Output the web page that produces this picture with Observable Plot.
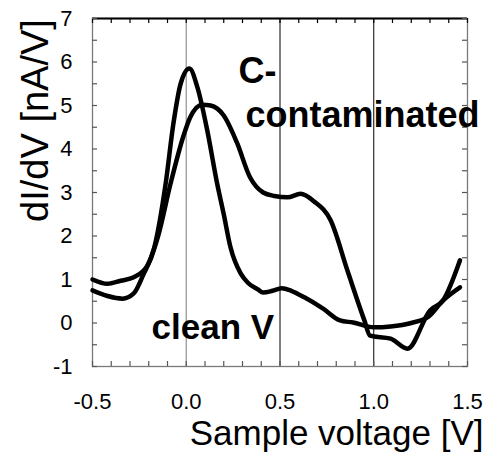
<!DOCTYPE html>
<html><head><meta charset="utf-8">
<script src="https://cdn.jsdelivr.net/npm/d3@7"></script>
<script src="https://cdn.jsdelivr.net/npm/@observablehq/plot@0.6"></script>
<style>body{margin:0;background:#fff}</style>
</head><body><div id="chart"></div>
<script>
// Series: clean V
const cleanV = [-0.5,-0.42,-0.34,-0.28,-0.23,-0.17,-0.11,-0.068,-0.03,0.017,0.06,0.11,0.165,0.2,0.236,0.29,0.33,0.38,0.41,0.46,0.51,0.56,0.63,0.73,0.82,0.89,1.0,1.09,1.2,1.29,1.37,1.46];
const cleanI = [0.75,0.62,0.56,0.68,1.1,1.74,3.2,4.6,5.5,5.85,5.41,4.47,3.2,2.5,1.74,1.14,0.92,0.78,0.70,0.74,0.80,0.74,0.59,0.33,0.06,0.01,-0.1,-0.08,0.0,0.14,0.52,0.82];
// Series: C-contaminated
const contV = [-0.5,-0.42,-0.35,-0.28,-0.21,-0.15,-0.084,-0.015,0.02,0.085,0.13,0.2,0.27,0.34,0.41,0.47,0.54,0.61,0.68,0.77,0.86,0.95,0.98,1.09,1.18,1.3,1.37,1.46];
const contI = [1.0,0.9,0.97,1.05,1.3,2.0,3.2,4.3,4.72,5.02,5.0,4.77,4.15,3.35,3.0,2.92,2.89,2.97,2.8,2.36,1.2,0.06,-0.29,-0.36,-0.59,0.29,0.52,1.44];
const seriesNames = ["clean V", "C-contaminated"];

const xTicks = [-0.5, 0, 0.5, 1, 1.5];
const xTickLabels = ["-0.5", "0.0", "0.5", "1.0", "1.5"];
const yTicks = [-1, 0, 1, 2, 3, 4, 5, 6, 7];
const yTickLabels = ["-1", "0", "1", "2", "3", "4", "5", "6", "7"];
const xMinor = d3.range(-5, 16).map(d => d / 10);
const yMinor = d3.range(-2, 15).map(d => d / 2);
const refLinesGray = [0];
const refLinesBlack = [0.5, 1.0];

const xLabel = "Sample voltage [V]";
const yLabel = "dI/dV [nA/V]";

const data = [
  ...cleanV.map((v, i) => ({v, g: cleanI[i], s: seriesNames[0]})),
  ...contV.map((v, i) => ({v, g: contI[i], s: seriesNames[1]}))
];

const font = "'Liberation Sans', Arial, Helvetica, sans-serif";
const W = 487, H = 454, ML = 92, MR = 20, MT = 18, MB = 88;
const fw = W - ML - MR, fh = H - MT - MB, tk = 5;

const chart = Plot.plot({
  width: W, height: H,
  marginLeft: ML, marginRight: MR, marginTop: MT, marginBottom: MB,
  x: {domain: [-0.5, 1.5], axis: null},
  y: {domain: [-1, 7], axis: null},
  style: {fontFamily: font, background: "white", color: "black", overflow: "visible"},
  marks: [
    Plot.ruleX(refLinesGray, {x: d => d, stroke: "#9a9a9a", strokeWidth: 1.3}),
    Plot.ruleX(refLinesBlack, {x: d => d, stroke: "#000", strokeWidth: 1}),
    Plot.frame({stroke: "#7a7a7a", strokeWidth: 1.3}),
    Plot.ruleY([7], {y: d => d, stroke: "#000", strokeWidth: 2}),
    // inward minor ticks
    Plot.tickX(xMinor, {x: d => d, insetTop: fh - tk, stroke: "#555", strokeWidth: 1.2}),
    Plot.tickX(xMinor, {x: d => d, insetBottom: fh - tk, stroke: "#000", strokeWidth: 1.2}),
    Plot.tickY(yMinor, {y: d => d, insetRight: fw - tk, stroke: "#555", strokeWidth: 1.2}),
    Plot.tickY(yMinor, {y: d => d, insetLeft: fw - tk, stroke: "#555", strokeWidth: 1.2}),
    // tick labels
    Plot.text(xTicks, {x: d => d, frameAnchor: "bottom", lineAnchor: "middle", textAnchor: "middle", dy: 35,
      text: (d, i) => xTickLabels[i], fontSize: 22, fill: "#000"}),
    Plot.text(yTicks, {y: d => d, frameAnchor: "left", lineAnchor: "middle", textAnchor: "end", dx: -20,
      text: (d, i) => yTickLabels[i], fontSize: 22, fill: "#000"}),
    Plot.line(data, {x: "v", y: "g", z: "s", stroke: "#000", strokeWidth: 4.5,
      curve: "monotone-x", strokeLinejoin: "round", strokeLinecap: "round"}),
    Plot.text([xLabel], {frameAnchor: "bottom-right", lineAnchor: "middle", textAnchor: "end", dx: 16, dy: 67, fontSize: 35, fill: "#000"}),
    Plot.text([yLabel], {frameAnchor: "left", lineAnchor: "middle", textAnchor: "middle", rotate: -90, dx: -57, dy: -72, fontSize: 38, fill: "#000"}),
    Plot.text(["C-"], {x: () => 0.279, y: () => 5.79, lineAnchor: "middle", textAnchor: "start", fontSize: 36, fontWeight: "bold", fill: "#000"}),
    Plot.text(["contaminated"], {x: () => 0.316, y: () => 4.76, lineAnchor: "middle", textAnchor: "start", fontSize: 36, fontWeight: "bold", fill: "#000"}),
    Plot.text(["clean V"], {x: () => -0.185, y: () => -0.10, lineAnchor: "middle", textAnchor: "start", fontSize: 35, fontWeight: "bold", fill: "#000"})
  ]
});
document.getElementById("chart").appendChild(chart);
</script>
</body></html>
